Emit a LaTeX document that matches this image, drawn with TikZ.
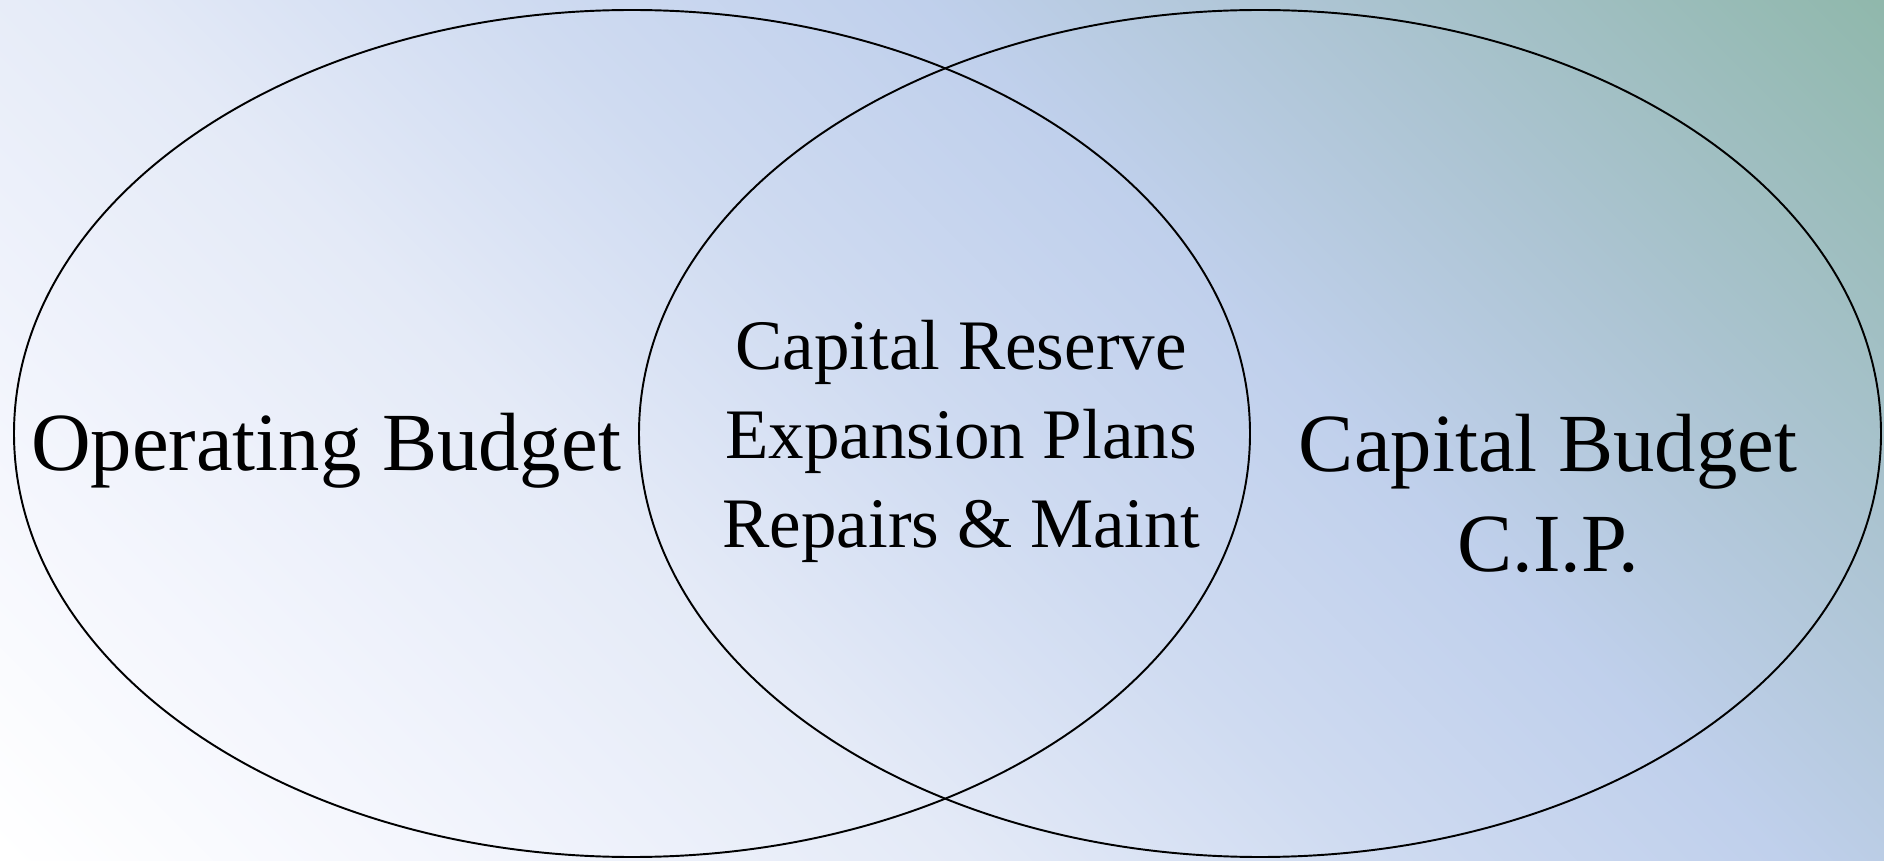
\documentclass[tikz,border=0pt]{standalone}
\usepackage{fontspec}
\setmainfont{Liberation Serif}

\definecolor{fadeA}{HTML}{F4F6FD}
\definecolor{fadeB}{HTML}{E4EAF7}
\definecolor{fadeC}{HTML}{CFDBF1}
\definecolor{fadeblue}{HTML}{C0D0EC}
\definecolor{fadeD}{HTML}{ACC4D2}
\definecolor{fadegreen}{HTML}{90B8AC}
\pgfdeclarehorizontalshading{bgfade}{100bp}{color(0bp)=(white); color(25bp)=(white);
  color(32.5bp)=(fadeA); color(42.5bp)=(fadeB); color(50bp)=(fadeC);
  color(57.5bp)=(fadeblue); color(65bp)=(fadeD); color(75bp)=(fadegreen); color(100bp)=(fadegreen)}

\begin{document}
\begin{tikzpicture}[x=0.01cm, y=0.01cm,
    bigtext/.style={font=\fontsize{23.5}{28.5}\selectfont, inner sep=0pt, align=center},
    midtext/.style={font=\fontsize{20.2}{25.3}\selectfont, inner sep=0pt, align=center}]
        \begin{scope}
            \clip (0,0) rectangle (1884,860);
            \shade[shading=bgfade, shading angle=45] (-28,-540) rectangle (1912,1400);
        \end{scope}

        \draw[line width=0.55pt] (632,426.5) ellipse [x radius=618, y radius=423.5];
        \draw[line width=0.55pt] (1260,426.5) ellipse [x radius=621, y radius=423.5];

        \node[bigtext, anchor=base] (opbudget) at (326,389) {Operating Budget};
        \node[midtext, anchor=base] (overlap) at (961,313) {Capital Reserve\\Expansion Plans\\Repairs \& Maint};
        \node[bigtext, anchor=base] (capbudget) at (1548,288) {Capital Budget\\C.I.P.};
    \end{tikzpicture}
\end{document}
